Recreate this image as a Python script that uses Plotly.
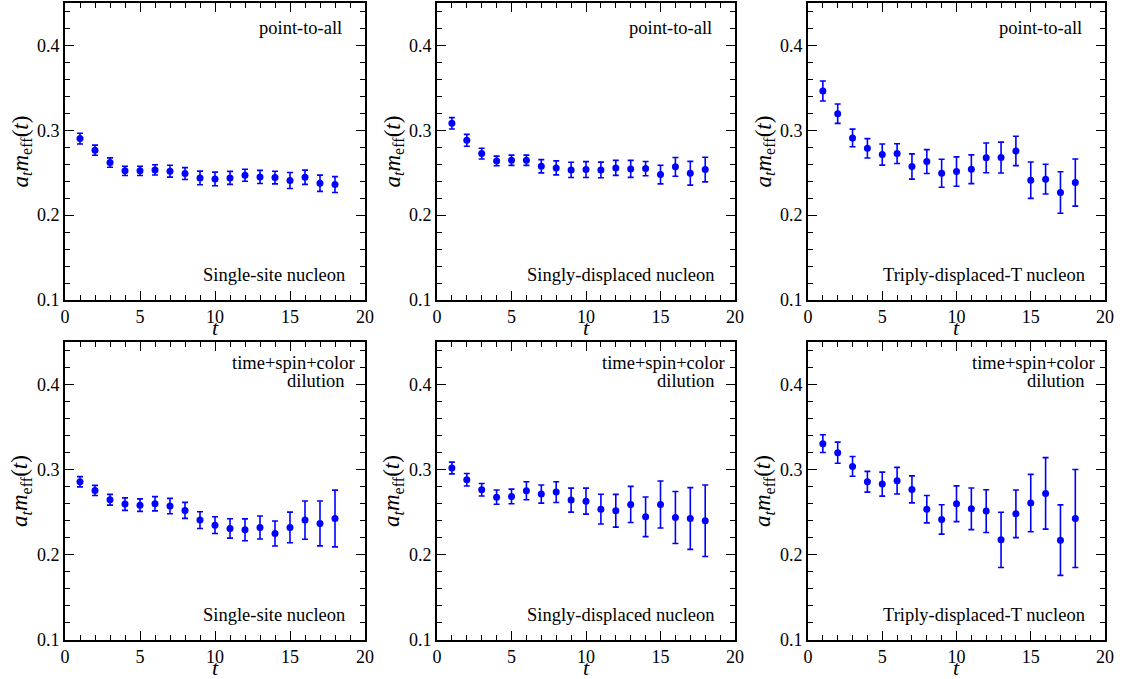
import plotly.graph_objects as go

t = list(range(1, 19))

# Top row: point-to-all
p2a_single = [0.2902, 0.2765, 0.262, 0.2522, 0.2522, 0.2533, 0.2518, 0.249, 0.2439, 0.2427, 0.2439, 0.247, 0.245, 0.2443, 0.2408, 0.2447, 0.2376, 0.236]
p2a_single_err = [0.0063, 0.006, 0.0055, 0.0055, 0.0055, 0.006, 0.007, 0.007, 0.008, 0.008, 0.0077, 0.007, 0.0077, 0.0075, 0.0094, 0.0084, 0.0096, 0.0094]
p2a_singly = [0.3082, 0.2882, 0.2725, 0.2639, 0.2647, 0.2647, 0.2576, 0.2557, 0.2533, 0.2537, 0.2533, 0.2557, 0.2545, 0.2549, 0.2478, 0.2569, 0.2494, 0.2537]
p2a_singly_err = [0.0067, 0.007, 0.0063, 0.0057, 0.006, 0.006, 0.0078, 0.0082, 0.009, 0.0094, 0.0092, 0.0088, 0.01, 0.0084, 0.011, 0.011, 0.014, 0.0145]
p2a_triply = [0.3463, 0.3196, 0.291, 0.2788, 0.2714, 0.2725, 0.2573, 0.2631, 0.2494, 0.2514, 0.2541, 0.2675, 0.2678, 0.2757, 0.2412, 0.2424, 0.2267, 0.2384]
p2a_triply_err = [0.0118, 0.0114, 0.0104, 0.0114, 0.0125, 0.0116, 0.0149, 0.0141, 0.0165, 0.0173, 0.0169, 0.0175, 0.0182, 0.0173, 0.0214, 0.0175, 0.0245, 0.0278]

# Bottom row: time+spin+color dilution
dil_single = [0.2859, 0.2757, 0.2647, 0.2596, 0.2584, 0.26, 0.2573, 0.2522, 0.2408, 0.2349, 0.231, 0.2294, 0.2322, 0.2251, 0.2322, 0.2408, 0.2369, 0.2427]
dil_single_err = [0.006, 0.0059, 0.0063, 0.0073, 0.0073, 0.0084, 0.009, 0.0094, 0.0098, 0.0098, 0.0114, 0.0129, 0.0135, 0.0147, 0.018, 0.0225, 0.0263, 0.0333]
dil_singly = [0.302, 0.2882, 0.2765, 0.2678, 0.2686, 0.2753, 0.2714, 0.2737, 0.2643, 0.2631, 0.2537, 0.2518, 0.2592, 0.2447, 0.2592, 0.2439, 0.2427, 0.24]
dil_singly_err = [0.0069, 0.0073, 0.0073, 0.0084, 0.0086, 0.0106, 0.0106, 0.0122, 0.0141, 0.0153, 0.0175, 0.0192, 0.0212, 0.0233, 0.0276, 0.0306, 0.0363, 0.042]
dil_triply = [0.3306, 0.32, 0.3039, 0.2859, 0.2831, 0.2871, 0.2769, 0.2537, 0.2416, 0.26, 0.2541, 0.2514, 0.2176, 0.2482, 0.2608, 0.2722, 0.2173, 0.2427]
dil_triply_err = [0.0104, 0.0124, 0.0116, 0.0122, 0.0141, 0.0157, 0.0159, 0.0161, 0.0173, 0.021, 0.0245, 0.0251, 0.0324, 0.028, 0.0337, 0.042, 0.0414, 0.0576]

x_ticks = [0, 5, 10, 15, 20]
y_ticks = [0.1, 0.2, 0.3, 0.4]
y_tick_labels = ["0.1", "0.2", "0.3", "0.4"]

op_labels = ["Single-site nucleon", "Singly-displaced nucleon", "Triply-displaced-T nucleon"]

panels = [
    (p2a_single, p2a_single_err, 0, op_labels[0]),
    (p2a_singly, p2a_singly_err, 0, op_labels[1]),
    (p2a_triply, p2a_triply_err, 0, op_labels[2]),
    (dil_single, dil_single_err, 1, op_labels[0]),
    (dil_singly, dil_singly_err, 1, op_labels[1]),
    (dil_triply, dil_triply_err, 1, op_labels[2]),
]

W, H = 1122, 679
col_px = [(65, 365), (437, 735), (808, 1105)]
row_px = [(3, 300), (342, 640)]

FONT = "Liberation Serif"
BLUE = "#0000ff"
TXT = dict(family=FONT, size=18.5, color="black")

fig = go.Figure()
layout = dict(
    width=W, height=H, autosize=False,
    margin=dict(l=0, r=0, t=0, b=0, pad=0, autoexpand=False),
    paper_bgcolor="white", plot_bgcolor="white",
    showlegend=False,
    font=dict(family=FONT, size=18, color="black"),
    annotations=[],
)

ytitle = "<i>a</i><sub><i>t</i></sub><i>m</i><sub>eff</sub>(<i>t</i>)"

for i, (vals, errs, row_kind, botlab) in enumerate(panels):
    r, c = divmod(i, 3)
    idx = "" if i == 0 else str(i + 1)
    xa, ya = "x" + idx, "y" + idx
    fig.add_trace(go.Scatter(
        x=t, y=vals, xaxis=xa, yaxis=ya, mode="markers",
        marker=dict(color=BLUE, size=7),
        error_y=dict(type="data", array=errs, color=BLUE, thickness=1.6, width=3),
    ))
    x0, x1 = col_px[c]
    y0, y1 = row_px[r]
    pw, ph = x1 - x0, y1 - y0
    common = dict(
        showgrid=False, zeroline=False, showline=True, linecolor="black", linewidth=1.6,
        mirror="allticks", ticks="inside", tickcolor="black", tickwidth=1.3,
        tickfont=dict(family=FONT, size=18, color="black"), automargin=False,
    )
    layout["xaxis" + idx] = dict(
        common, domain=[x0 / W, x1 / W], anchor=ya, range=[0, 20],
        tickvals=x_ticks, ticklen=9,
        minor=dict(dtick=1, tick0=0, ticklen=5, ticks="inside", tickcolor="black", tickwidth=1.3),
    )
    layout["yaxis" + idx] = dict(
        common, domain=[1 - y1 / H, 1 - y0 / H], anchor=xa, range=[0.1, 0.45],
        tickvals=y_ticks, ticktext=y_tick_labels, ticklen=9,
        minor=dict(dtick=0.02, tick0=0.1, ticklen=5, ticks="inside", tickcolor="black", tickwidth=1.3),
    )
    dom = dict(xref=xa + " domain", yref=ya + " domain", showarrow=False)
    # y-axis title
    layout["annotations"].append(dict(
        dom, text=ytitle, x=-44 / pw, y=0.5, xanchor="center", yanchor="middle",
        textangle=-90, font=dict(family=FONT, size=23, color="black"),
    ))
    # x-axis title
    layout["annotations"].append(dict(
        dom, text="<i>t</i>", x=0.5, y=-27 / ph, xanchor="center", yanchor="middle",
        font=dict(family=FONT, size=22, color="black"),
    ))
    if row_kind == 0:
        layout["annotations"].append(dict(
            dom, text="point-to-all", x=1 - 21 / pw, y=1 - 25 / ph,
            xanchor="right", yanchor="middle", font=TXT,
        ))
    else:
        layout["annotations"].append(dict(
            dom, text="time+spin+color", x=1 - 8 / pw, y=1 - 21 / ph,
            xanchor="right", yanchor="middle", font=TXT,
        ))
        layout["annotations"].append(dict(
            dom, text="dilution", x=1 - 18 / pw, y=1 - 39 / ph,
            xanchor="right", yanchor="middle", font=TXT,
        ))
    layout["annotations"].append(dict(
        dom, text=botlab, x=1 - 18 / pw, y=25 / ph,
        xanchor="right", yanchor="middle", font=TXT,
    ))

fig.update_layout(**layout)
fig.write_html(
    "out.html",
    config={"displayModeBar": False},
    post_script="document.body.style.margin='0';document.body.style.overflow='hidden';",
)
